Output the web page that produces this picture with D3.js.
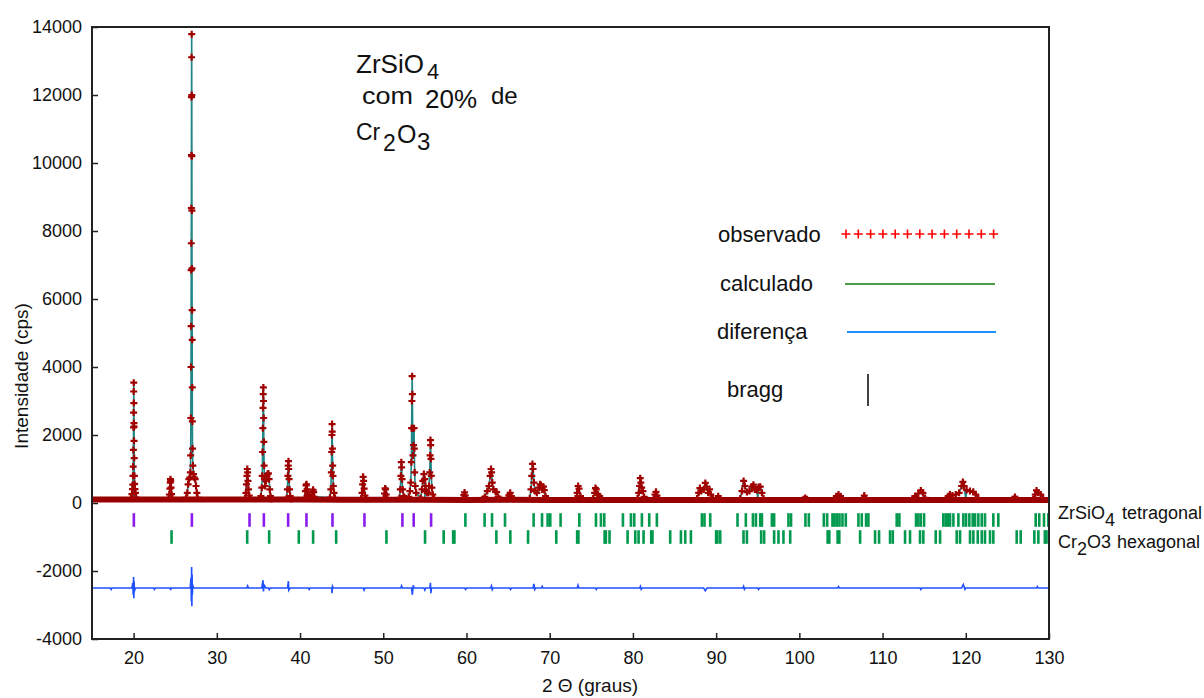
<!DOCTYPE html>
<html>
<head>
<meta charset="utf-8">
<script src="https://cdn.jsdelivr.net/npm/d3@7"></script>
<style>
  body { margin: 0; background: #fff; }
  text { font-family: "Liberation Sans", Arial, sans-serif; fill: #111; }
</style>
</head>
<body>
<svg id="chart" width="1204" height="698"></svg>
<script>
// Dados
const xTicks = [20, 30, 40, 50, 60, 70, 80, 90, 100, 110, 120, 130];
const yTicks = [-4000, -2000, 0, 2000, 4000, 6000, 8000, 10000, 12000, 14000];

// fundo observado
const bgAngles = [15, 20, 25, 30, 35, 40, 45, 50, 55, 60, 65, 70, 75, 80, 85, 90, 95, 100, 105, 110, 115, 120, 125, 130];
const bgCounts = [100, 100, 105, 105, 100, 100, 95, 95, 95, 90, 95, 90, 90, 90, 90, 90, 90, 90, 90, 90, 90, 90, 90, 90];

// pontos observados nos picos (2θ, cps)
const obsLow = [
  [19.70, 140], [19.80, 260], [19.86, 410], [19.90, 540], [19.93, 800], [19.95, 1070], [19.97, 1560],
  [19.99, 2220], [20.00, 2660], [20.01, 3280], [20.02, 3540], [20.03, 2940], [20.04, 2350], [20.05, 1830],
  [20.06, 2250], [20.07, 1320], [20.09, 800], [20.12, 560], [20.16, 410], [20.22, 300], [20.30, 160],
  [24.20, 130], [24.30, 250], [24.36, 420], [24.40, 600], [24.43, 700], [24.46, 650], [24.50, 450], [24.56, 260], [24.65, 140],
  [26.30, 150], [26.45, 300], [26.55, 550], [26.65, 700], [26.75, 750], [26.82, 900], [26.86, 1400], [26.88, 2500],
  [26.90, 4000], [26.91, 5200], [26.92, 6850], [26.93, 7640], [26.94, 8670], [26.95, 10230], [26.96, 11940],
  [26.97, 13110], [26.98, 13790], [26.99, 12000], [27.00, 10200], [27.01, 8600], [27.02, 6900], [27.03, 5670],
  [27.04, 4800], [27.05, 3400], [27.06, 2400], [27.08, 1600], [27.12, 1100], [27.20, 850], [27.30, 750],
  [27.40, 700], [27.50, 500], [27.60, 300], [27.70, 150],
  [33.40, 140], [33.50, 300], [33.56, 550], [33.62, 800], [33.66, 1000], [33.70, 900], [33.74, 650], [33.80, 400], [33.90, 220], [34.00, 130],
  [35.30, 200], [35.40, 450], [35.46, 800], [35.50, 1500], [35.53, 2200], [35.55, 2800], [35.57, 3200], [35.59, 3400],
  [35.61, 3000], [35.63, 2500], [35.65, 1800], [35.68, 1100], [35.72, 700], [35.80, 500], [35.90, 650], [36.00, 800],
  [36.10, 850], [36.20, 870], [36.28, 700], [36.36, 400], [36.45, 200], [36.55, 120],
  [38.40, 150], [38.48, 400], [38.54, 800], [38.58, 1100], [38.61, 1230], [38.64, 1000], [38.68, 700], [38.74, 400], [38.82, 200], [38.95, 120],
  [40.55, 140], [40.65, 350], [40.72, 520], [40.78, 550], [40.84, 400], [40.92, 250], [41.05, 200], [41.40, 200],
  [41.50, 330], [41.57, 390], [41.64, 320], [41.72, 180],
  [43.60, 160], [43.70, 400], [43.76, 900], [43.80, 1500], [43.83, 2000], [43.85, 2320], [43.87, 2100], [43.89, 1600],
  [43.92, 1100], [43.95, 800], [44.00, 500], [44.08, 300], [44.20, 150]
];
const obsMid = [
  [47.35, 130], [47.45, 300], [47.52, 550], [47.58, 770], [47.64, 650], [47.70, 420], [47.80, 220], [47.95, 120],
  [50.05, 130], [50.15, 280], [50.22, 430], [50.28, 400], [50.36, 250], [50.48, 130],
  [51.95, 150], [52.05, 400], [52.12, 800], [52.17, 1200], [52.21, 1050], [52.26, 700], [52.33, 400], [52.45, 200], [52.60, 150],
  [53.05, 180], [53.20, 350], [53.30, 600], [53.38, 1200], [53.41, 2200], [53.44, 3000], [53.47, 3730], [53.50, 3200],
  [53.53, 2200], [53.57, 1400], [53.64, 1700], [53.70, 2200], [53.73, 1600], [53.77, 900], [53.84, 500], [53.95, 300],
  [54.50, 150], [54.65, 400], [54.75, 650], [54.88, 850], [54.98, 700], [55.08, 500], [55.18, 350], [55.28, 300],
  [55.40, 300], [55.50, 500], [55.58, 900], [55.63, 1400], [55.67, 1850], [55.70, 1700], [55.73, 1300], [55.77, 800],
  [55.85, 450], [55.95, 250], [56.10, 130],
  [59.55, 120], [59.68, 230], [59.77, 310], [59.86, 220], [60.00, 120],
  [62.00, 120], [62.20, 180], [62.50, 350], [62.70, 500], [62.85, 800], [62.95, 1000], [63.02, 900], [63.10, 600],
  [63.25, 400], [63.50, 330], [63.62, 320], [63.80, 180], [64.00, 120],
  [64.90, 120], [65.10, 230], [65.25, 300], [65.40, 200], [65.60, 120],
  [67.60, 140], [67.75, 400], [67.85, 800], [67.93, 1150], [68.00, 1000], [68.10, 600], [68.25, 350], [68.45, 300],
  [68.70, 450], [68.85, 550], [68.95, 520], [69.10, 400], [69.25, 480], [69.35, 380], [69.50, 200], [69.70, 120]
];
const obsHigh = [
  [73.10, 130], [73.30, 300], [73.42, 500], [73.52, 420], [73.70, 200], [73.90, 120],
  [75.20, 130], [75.40, 300], [75.50, 440], [75.60, 400], [75.80, 250], [76.00, 200], [76.20, 130],
  [80.55, 130], [80.70, 300], [80.80, 500], [80.88, 730], [80.95, 600], [81.05, 450], [81.20, 350], [81.35, 180],
  [82.50, 130], [82.65, 250], [82.77, 330], [82.90, 220], [83.10, 120],
  [87.70, 130], [87.90, 300], [88.05, 440], [88.20, 350], [88.50, 400], [88.70, 590], [88.85, 480], [89.05, 300],
  [89.20, 400], [89.35, 250], [89.60, 130],
  [90.05, 110], [90.25, 200], [90.45, 110],
  [92.90, 130], [93.10, 350], [93.30, 650], [93.45, 500], [93.70, 320], [94.00, 350], [94.30, 480], [94.48, 540],
  [94.65, 400], [94.90, 380], [95.10, 470], [95.30, 480], [95.50, 300], [95.70, 130],
  [100.50, 110], [100.70, 150], [100.90, 110],
  [104.20, 110], [104.45, 200], [104.70, 250], [104.95, 200], [105.20, 110],
  [107.60, 110], [107.80, 220], [108.00, 110],
  [113.60, 120], [113.90, 200], [114.30, 280], [114.60, 370], [114.85, 300], [115.10, 150],
  [117.60, 110], [117.90, 200], [118.10, 250], [118.40, 220], [118.80, 250], [119.20, 300], [119.50, 500],
  [119.65, 620], [119.80, 500], [120.10, 380], [120.50, 350], [120.90, 330], [121.20, 250], [121.50, 130],
  [125.70, 110], [125.90, 180], [126.10, 110],
  [128.10, 120], [128.35, 250], [128.50, 370], [128.70, 300], [129.00, 250], [129.30, 130]
];

// diferença (obs - calc), desenhada deslocada
const diffOffset = -2500;
const diffPoints = [
  [15, 0], [17.2, 0], [17.3, -40], [17.4, 0], [19.80, 0], [19.90, 150], [19.95, -200], [20.00, 320], [20.03, -300],
  [20.06, 200], [20.10, -100], [20.20, 0], [22.4, 0], [22.5, -40], [22.6, 0],
  [24.40, 0], [24.45, -60], [24.50, 0], [26.80, 0], [26.90, 300], [26.94, -400], [26.97, 620], [27.00, -540],
  [27.03, 400], [27.06, -200], [27.10, 100], [27.20, 0], [33.60, 0], [33.70, 60], [33.80, 0],
  [35.40, 0], [35.50, 150], [35.55, 230], [35.60, -100], [35.70, 80], [35.90, 0], [36.2, 0], [36.3, -50], [36.4, 0],
  [38.50, 0], [38.60, 200], [38.65, -60], [38.80, 0], [41.0, 0], [41.1, -40], [41.2, 0],
  [43.80, 0], [43.85, -150], [43.90, 50], [44.00, 0], [47.6, 0], [47.7, -60], [47.8, 0],
  [52.1, 0], [52.2, 60], [52.3, 0], [53.40, 0], [53.50, -200], [53.60, 80], [53.70, 0], [54.9, 0], [55.0, -60], [55.1, 0],
  [55.60, 0], [55.67, 150], [55.72, -150], [55.80, 0], [59.8, 0], [59.9, -40], [60.0, 0],
  [62.9, 0], [63.0, 60], [63.1, -50], [63.2, 0], [65.2, 0], [65.3, -40], [65.4, 0],
  [68.00, 0], [68.10, 120], [68.20, -40], [68.30, 0], [69.0, 0], [69.1, 50], [69.2, 0],
  [73.30, 0], [73.40, 80], [73.50, 0], [75.5, 0], [75.6, -40], [75.7, 0], [80.8, 0], [80.9, 50], [81.0, -40], [81.1, 0],
  [88.50, 0], [88.70, -80], [88.90, 0], [93.2, 0], [93.3, 50], [93.4, -40], [93.5, 0], [95.0, 0], [95.1, -40], [95.2, 0],
  [104.6, 0], [104.7, 40], [104.8, 0], [114.5, 0], [114.6, -40], [114.7, 0],
  [119.50, 0], [119.70, 100], [119.90, -40], [120.0, 0], [128.5, 0], [128.6, 40], [128.7, 0], [130, 0]
];

// posições de Bragg
const braggZr = [20.03, 27.0, 33.93, 35.65, 38.57, 40.77, 43.9, 47.74, 52.3, 53.66, 55.75,
  59.87, 62.18, 63.07, 64.63, 68.07, 69.08, 69.75, 70.07, 71.31, 73.56, 75.56, 76.16, 76.56, 78.8, 79.76,
  80.16, 81.08, 81.96, 82.88, 88.29, 88.6, 89.29, 92.57, 93.57, 94.42, 94.78, 95.3, 95.5, 96.7, 96.97,
  98.69, 99.0, 100.73, 101.14, 102.94, 103.34, 103.98, 104.22, 104.5, 104.82, 105.18, 105.58, 107.1, 107.5,
  108.02, 108.3, 111.7, 112.02, 114.02, 114.3, 114.59, 114.99, 117.3, 117.59, 117.83, 118.11, 118.51, 119.11,
  119.71, 120.03, 120.43, 120.83, 121.11, 121.51, 121.92, 122.31, 123.31, 123.91, 128.4, 128.83, 129.4, 129.92];
const braggCr = [24.56, 33.65, 36.29, 39.85, 41.57, 44.34, 50.38, 55.02, 57.26, 58.4, 58.55, 63.59, 65.27,
  67.4, 70.79, 73.3, 73.45, 76.6, 76.75, 77.19, 79.36, 80.28, 80.68, 81.28, 82.2, 82.35, 84.48, 85.77, 86.29, 86.97,
  90.0, 90.15, 90.49, 93.29, 93.7, 95.41, 95.77, 96.97, 97.49, 98.09, 98.9, 103.4, 103.6, 104.6, 104.8,
  107.3, 109.1, 109.58, 110.9, 111.23, 112.7, 113.3, 114.5, 114.9, 116.39, 116.91, 118.91, 119.31, 120.51,
  120.91, 121.44, 121.92, 122.31, 122.91, 123.31, 126.12, 126.6, 128.24, 128.72, 129.5, 129.7];
const phaseLabels = [["ZrSiO", "4", "tetragonal"], ["Cr", "2", "O3", "hexagonal"]];
const legendLabels = ["observado", "calculado", "diferença", "bragg"];

// Geometria
const margin = { top: 27, right: 155, bottom: 59, left: 92 },
  width = 1204 - margin.left - margin.right,
  height = 698 - margin.top - margin.bottom;

const svg = d3.select("#chart");
const g = svg.append("g").attr("transform", `translate(${margin.left},${margin.top})`);

const x = d3.scaleLinear().domain([15, 130]).range([0, width]);
const y = d3.scaleLinear().domain([-4000, 14000]).range([height, 0]);

// Eixos (sem separador de milhar, hífen simples)
const plain = d => String(d);
const yAxis = g.append("g")
  .call(d3.axisLeft(y).tickValues(yTicks).tickFormat(plain).tickSizeInner(-6).tickSizeOuter(0).tickPadding(10));
const xAxis = g.append("g")
  .attr("transform", `translate(0,${height})`)
  .call(d3.axisBottom(x).tickValues(xTicks).tickFormat(plain).tickSizeInner(-6).tickSizeOuter(0).tickPadding(12));
for (const ax of [yAxis, xAxis]) {
  ax.select(".domain").remove();
  ax.selectAll("line").attr("stroke", "#222").attr("stroke-width", 1.5);
  ax.selectAll("text").attr("font-size", 18).attr("fill", "#222")
    .style("font-family", '"Liberation Sans", Arial, sans-serif');
}

// Curvas
const bgPoints = bgAngles.map((a, i) => [a, bgCounts[i]]);
const peakObs = obsLow.concat(obsMid, obsHigh);
const allObs = peakObs.concat(bgPoints).sort((a, b) => a[0] - b[0]);
const line = d3.line().x(d => x(d[0])).y(d => y(d[1]));

g.append("path").datum(allObs)
  .attr("d", line).attr("fill", "none")
  .attr("stroke", "#1f8585").attr("stroke-width", 1.6);

g.append("path").datum(bgPoints)
  .attr("d", line).attr("fill", "none")
  .attr("stroke", "#990000").attr("stroke-width", 6);

const cross = (px, py, s) => `M${px - s},${py}h${2 * s}M${px},${py - s}v${2 * s}`;
g.append("g").selectAll("path")
  .data(peakObs)
  .enter().append("path")
  .attr("d", d => cross(x(d[0]), y(d[1]), 3.5))
  .attr("stroke", "#a00000").attr("stroke-width", 2.2).attr("fill", "none");

g.append("path").datum(diffPoints)
  .attr("d", d3.line().x(d => x(d[0])).y(d => y(d[1] + diffOffset)))
  .attr("fill", "none").attr("stroke", "#2050ff").attr("stroke-width", 1.6);

// Marcas de Bragg
g.append("g").selectAll("line").data(braggZr).enter().append("line")
  .attr("x1", d => x(d)).attr("x2", d => x(d))
  .attr("y1", y(-300)).attr("y2", y(-700))
  .attr("stroke", d => (d < 57 ? "#8a1cf0" : "#00994d")).attr("stroke-width", 2.6);
g.append("g").selectAll("line").data(braggCr).enter().append("line")
  .attr("x1", d => x(d)).attr("x2", d => x(d))
  .attr("y1", y(-800)).attr("y2", y(-1200))
  .attr("stroke", "#00994d").attr("stroke-width", 2.6);

// Moldura
g.append("rect").attr("width", width).attr("height", height)
  .attr("fill", "none").attr("stroke", "#222").attr("stroke-width", 2);

// Títulos dos eixos
svg.append("text").attr("x", 590).attr("y", 692).attr("text-anchor", "middle")
  .attr("font-size", 19).text("2 Θ (graus)");
svg.append("text").attr("transform", "translate(28,376) rotate(-90)").attr("text-anchor", "middle")
  .attr("font-size", 19).text("Intensidade (cps)");

// Rótulos das fases
const p1 = svg.append("text").attr("x", 1058).attr("y", 519).attr("font-size", 18);
p1.append("tspan").text(phaseLabels[0][0]);
p1.append("tspan").attr("dy", 7).text(phaseLabels[0][1]);
p1.append("tspan").attr("x", 1122).attr("dy", -7).text(phaseLabels[0][2]);
const p2 = svg.append("text").attr("x", 1058).attr("y", 548).attr("font-size", 18);
p2.append("tspan").text(phaseLabels[1][0]);
p2.append("tspan").attr("dy", 7).text(phaseLabels[1][1]);
p2.append("tspan").attr("dy", -7).text(phaseLabels[1][2]);
p2.append("tspan").attr("x", 1117).text(phaseLabels[1][3]);

// Anotação
const note = svg.append("g");
note.append("text").attr("x", 356).attr("y", 73).attr("font-size", 26).text("ZrSiO");
note.append("text").attr("x", 427).attr("y", 79).attr("font-size", 22).text("4");
note.append("text").attr("x", 362).attr("y", 104).attr("font-size", 24)
  .attr("textLength", 51).attr("lengthAdjust", "spacingAndGlyphs").text("com");
note.append("text").attr("x", 425).attr("y", 108).attr("font-size", 26).text("20%");
note.append("text").attr("x", 491).attr("y", 104).attr("font-size", 24).text("de");
note.append("text").attr("x", 356).attr("y", 140).attr("font-size", 23).text("Cr");
note.append("text").attr("x", 383).attr("y", 151).attr("font-size", 23).text("2");
note.append("text").attr("x", 397).attr("y", 143).attr("font-size", 25).text("O");
note.append("text").attr("x", 417).attr("y", 150).attr("font-size", 24).text("3");

// Legenda
const leg = svg.append("g");
const legY = [242, 291, 339, 397];
const legX = [718, 720, 717, 727];
legendLabels.forEach((t, i) => {
  leg.append("text").attr("x", legX[i]).attr("y", legY[i]).attr("font-size", 22).text(t);
});
leg.append("g").selectAll("path").data(d3.range(13)).enter().append("path")
  .attr("d", i => cross(846 + i * 12.3, 234, 4.5))
  .attr("stroke", "#ff0000").attr("stroke-width", 1.6).attr("fill", "none");
leg.append("line").attr("x1", 845).attr("x2", 995).attr("y1", 284).attr("y2", 284)
  .attr("stroke", "#4c9c4c").attr("stroke-width", 2);
leg.append("line").attr("x1", 847).attr("x2", 996).attr("y1", 332).attr("y2", 332)
  .attr("stroke", "#1e8fff").attr("stroke-width", 2);
leg.append("line").attr("x1", 868).attr("x2", 868).attr("y1", 374).attr("y2", 406)
  .attr("stroke", "#111").attr("stroke-width", 1.6);
</script>
</body>
</html>
